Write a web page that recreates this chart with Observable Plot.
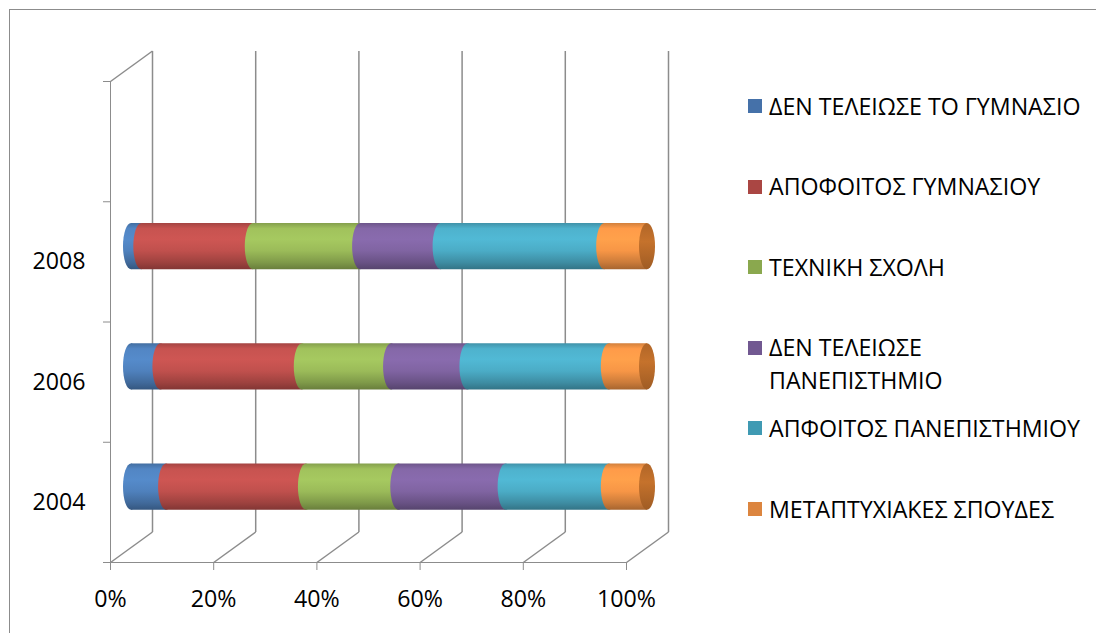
<!DOCTYPE html>
<html><head><meta charset="utf-8">
<script src="https://cdn.jsdelivr.net/npm/d3@7"></script>
<script src="https://cdn.jsdelivr.net/npm/@observablehq/plot@0.6"></script>
<style>
html,body{margin:0;padding:0;background:#fff;}
#wrap{position:relative;width:1103px;height:633px;overflow:hidden;font-family:'Open Sans',sans-serif;}
#border{position:absolute;left:9px;top:9px;width:1086px;height:700px;border-top:1.5px solid #8c8c8c;border-left:1.5px solid #8c8c8c;}
#chart{position:absolute;left:0;top:0;}
#chart svg text{fill:#000;}
.legend-item{position:absolute;left:748px;display:flex;align-items:flex-start;font-size:23.2px;line-height:33px;color:#000;}
.sw{width:14px;height:14px;margin-top:9.5px;margin-right:7px;flex:none;}
.lbl{width:328px;}
</style></head><body>
<div id="wrap"><div id="border"></div><div id="chart"></div><div id="legend"></div></div>
<script>
// ---- data (percent shares) ----
const years = ["2004", "2006", "2008"];
const series = [
  "ΔΕΝ ΤΕΛΕΙΩΣΕ ΤΟ ΓΥΜΝΑΣΙΟ",
  "ΑΠΟΦΟΙΤΟΣ ΓΥΜΝΑΣΙΟΥ",
  "ΤΕΧΝΙΚΗ ΣΧΟΛΗ",
  "ΔΕΝ ΤΕΛΕΙΩΣΕ ΠΑΝΕΠΙΣΤΗΜΙΟ",
  "ΑΠΦΟΙΤΟΣ ΠΑΝΕΠΙΣΤΗΜΙΟΥ",
  "ΜΕΤΑΠΤΥΧΙΑΚΕΣ ΣΠΟΥΔΕΣ"
];
const gymDropout   = [6.8, 5.7, 2.0];
const gymGraduate  = [27.1, 27.4, 21.6];
const technical    = [17.9, 17.3, 20.8];
const uniDropout   = [20.8, 14.8, 15.6];
const uniGraduate  = [20.0, 27.4, 31.7];
const postgraduate = [7.4, 7.4, 8.3];
const xTicks = [0, 20, 40, 60, 80, 100];

const seriesValues = [gymDropout, gymGraduate, technical, uniDropout, uniGraduate, postgraduate];
const barColors = ["#4F81BD", "#C0504D", "#9BBB59", "#8064A2", "#4BACC6", "#F79646"];
const legendColors = ["#4571A9", "#AA4643", "#8AA84E", "#715891", "#3F9AB3", "#DC853F"];

// 3D depth of the floor/walls, in data units of the two scales
const DX = 42 * 100 / 516;
const DY = 30.5 * 4 / 481;

// stacked rows
const rows = [];
years.forEach((yr, yi) => {
  const vals = seriesValues.map(s => s[yi]);
  const total = d3.sum(vals);
  let acc = 0;
  vals.forEach((v, k) => {
    const x1 = acc / total * 100; acc += v;
    rows.push({year: yr, row: yi, series: series[k], k, x1, x2: acc / total * 100});
  });
});
const lastRows = rows.filter(r => r.k === series.length - 1);
const grid = "#8c8c8c";

const plot = Plot.plot({
  width: 1103, height: 633,
  marginLeft: 110, marginRight: 477, marginTop: 81, marginBottom: 71,
  style: {fontFamily: "'Open Sans', sans-serif", fontSize: "23.2px", color: grid, background: "transparent", overflow: "visible"},
  x: {domain: [0, 100], ticks: xTicks, tickFormat: d => d + "%", tickSize: 8, tickPadding: 20, line: true, label: null},
  y: {domain: [0, 4], ticks: [0, 1, 2, 3, 4], tickFormat: () => "", tickSize: 7, line: true, label: null},
  color: {domain: series, range: series.map((s, k) => `url(#cyl${k})`)},
  marks: [
    // back wall gridlines
    Plot.link(xTicks, {x1: d => d + DX, x2: d => d + DX, y1: DY, y2: 4 + DY, stroke: grid, strokeWidth: 1.5}),
    // floor diagonals
    Plot.link(xTicks, {x1: d => d, x2: d => d + DX, y1: 0, y2: DY, stroke: grid, strokeWidth: 1.5}),
    // left wall top edge
    Plot.link([0], {x1: d => d, x2: d => d + DX, y1: 4, y2: 4 + DY, stroke: grid, strokeWidth: 1.5}),
    // cylinder bodies
    Plot.rect(rows, {x1: d => d.x1 + DX / 2, x2: d => d.x2 + DX / 2, y1: d => d.row + DY / 2, y2: d => d.row + 1 + DY / 2,
      fill: "series", insetTop: 37, insetBottom: 37}),
    // segment left ends (elliptical)
    Plot.rect(rows, {x1: d => d.x1 + DX / 2, x2: d => d.x1 + DX / 2, y1: d => d.row + DY / 2, y2: d => d.row + 1 + DY / 2,
      fill: "series", insetTop: 37, insetBottom: 37, insetLeft: -8, insetRight: -8, rx: 8, ry: 23.2}),
    // right end face
    Plot.rect(lastRows, {x1: d => d.x2 + DX / 2, x2: d => d.x2 + DX / 2, y1: d => d.row + DY / 2, y2: d => d.row + 1 + DY / 2,
      fill: "url(#cylEnd)", insetTop: 37, insetBottom: 37, insetLeft: -8, insetRight: -8, rx: 8, ry: 23.2}),
    // category labels
    Plot.text(years, {y: d => years.indexOf(d) + 0.5, text: d => d, frameAnchor: "left", dx: -25, textAnchor: "end", fill: "#000"})
  ]
});

// gradients for the cylinder look
const ns = "http://www.w3.org/2000/svg";
const defs = document.createElementNS(ns, "defs");
function addGrad(id, base, stops) {
  const g = document.createElementNS(ns, "linearGradient");
  g.setAttribute("id", id);
  g.setAttribute("x1", "0"); g.setAttribute("y1", "0"); g.setAttribute("x2", "0"); g.setAttribute("y2", "1");
  stops.forEach(([off, f]) => {
    const s = document.createElementNS(ns, "stop");
    s.setAttribute("offset", off);
    s.setAttribute("stop-color", f(d3.color(base)).formatHex());
    g.appendChild(s);
  });
  defs.appendChild(g);
}
const cylStops = [
  [0, c => c.darker(0.45)],
  [0.12, c => c.brighter(0.1)],
  [0.35, c => c.brighter(0.2)],
  [0.6, c => c],
  [0.85, c => c.darker(0.55)],
  [1, c => c.darker(1.1)]
];
barColors.forEach((c, k) => addGrad(`cyl${k}`, c, cylStops));
addGrad("cylEnd", "#C5722C", [[0, c => c.darker(0.3)], [0.4, c => c], [1, c => c.darker(0.6)]]);
plot.insertBefore(defs, plot.firstChild);
document.getElementById("chart").appendChild(plot);

// legend
const legend = document.getElementById("legend");
series.forEach((s, k) => {
  const item = document.createElement("div");
  item.className = "legend-item";
  item.style.top = (106 + k * 80.6 - 16.5) + "px";
  const sw = document.createElement("div");
  sw.className = "sw"; sw.style.background = legendColors[k];
  const lbl = document.createElement("div");
  lbl.className = "lbl"; lbl.textContent = s;
  item.appendChild(sw); item.appendChild(lbl);
  legend.appendChild(item);
});
</script>
</body></html>
